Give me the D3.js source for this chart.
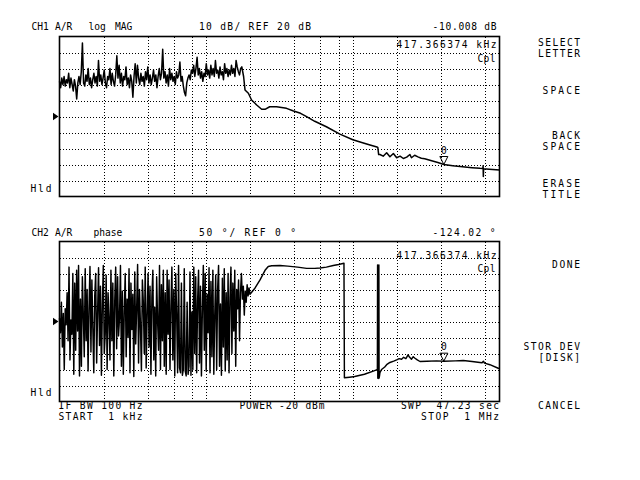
<!DOCTYPE html>
<html><head><meta charset="utf-8">
<script src="https://cdn.jsdelivr.net/npm/d3@7"></script>
<style>
html,body{margin:0;padding:0;background:#fff;}
svg{display:block;background:#fff;}
text{font-family:"DejaVu Sans Mono",monospace;font-size:9.6px;fill:#000;}
</style></head><body>
<svg id="c" width="640" height="480"></svg>
<script>
// ---------- DATA ----------
// sweep: 1 kHz .. 1 MHz, log
const sweepStartKHz = 1;
const sweepStopKHz = 1000;
// vertical grid frequencies (kHz)
const gridFreqs = [2, 4, 6, 8, 10, 20, 40, 60, 80, 100, 200, 400, 800];
// CH1 log MAG: 10 dB/div, REF 20 dB at centre
const magGridDb = [-20, -10, 0, 10, 20, 30, 40, 50, 60];
// CH2 phase: 50 deg/div, REF 0 deg at centre
const phaseGridDeg = [-200, -150, -100, -50, 0, 50, 100, 150, 200];

// CH1 noisy part, sweep points from 1 kHz to 17.5 kHz (dB)
const magNoiseEndKHz = 17.5;
const magNoise = [
  42,38,44,40,45,39,43,41,47,38,
  44,40,36,43,39,31,41,45,40,48,
  66,41,39,46,42,50,40,44,38,43,
  47,41,45,39,55,42,46,40,44,49,
  41,38,45,43,50,40,47,42,39,46,
  58,44,52,41,47,39,45,43,51,40,
  44,38,46,42,32,45,53,41,52,44,
  40,47,42,45,39,48,43,51,41,46,
  40,44,49,42,46,38,45,50,43,47,
  62,44,48,41,46,39,50,43,47,42,
  45,40,48,44,46,54,42,45,39,35,
  33,41,44,46,43,49,47,52,45,50,
  57,46,50,44,48,42,47,45,53,46,
  49,44,52,46,50,45,55,47,49,44,
  51,46,48,43,53,47,50,45,49,46,
  52,47,50,45,55,51,48,46,50,51
];
// CH1 rest of trace
const magFreq = [18,18.4,19.4,20.4,22.1,23.9,25.2,27.1,30.2,35.3,39,44,48.4,55,66,81.6,100,115,131,146,148,150,153,161,170,179,189,199,210,221,233,245,251,264,278,293,309,340,380,417.366374,480,560,650,735,770,773,776,779,850,1000];
const magVals = [45,36.6,34.5,30.3,27.2,24.5,24.5,26.1,26.1,25.1,23.6,22,19.9,17,13.6,9,5.5,3.8,2.2,0.9,0.7,-3.8,-3.75,-4.8,-2.7,-5.2,-3.1,-5.8,-4.8,-6.25,-5.4,-3.75,-5.8,-4.2,-5.2,-6.1,-6.4,-7.5,-8.8,-10.008,-10.8,-11.4,-12.0,-12.4,-12.5,-10.8,-17.5,-12.6,-12.9,-13.4];

// CH2 noisy part, sweep points from 1 kHz to 19.9 kHz (deg)
const phaseNoiseEndKHz = 19.9;
const phaseNoise = [
  10,-35,60,-80,25,-150,40,-10,90,-60,170,-120,5,-40,150,-165,
  120,-90,160,-30,175,-170,70,-140,140,20,-110,165,-60,100,-155,45,172,-95,130,-20,-160,80,150,-130,30,168,-75,110,-168,55,175,-100,-40,145,-150,90,10,-120,160,-60,120,-170,65,170,-85,
  140,-45,10,175,-140,95,-165,35,150,-110,70,-50,165,-160,120,-25,85,-172,155,-70,40,178,-130,100,-15,-155,130,60,-100,170,-145,20,150,-80,110,-165,75,160,-120,45,-170,140,0,-90,175,-150,115,-60,160,-140,
  90,-165,160,-40,130,-150,50,170,-120,100,-170,150,25,-160,175,-145,-160,120,-168,-150,165,-155,-170,60,-165,-140,155,-168,30,-150,
  170,-100,140,-160,65,160,-130,110,-170,40,175,-90,150,-155,85,-35,168,-160,125,-110,160,-165,20,145,-150,100,175,-140,55,-168,135,-80,165,-155,90,-120,150,-160,75,170,-100,120,-30,160,-140,
  100,40,130,-60,90,150,70,110,20,95,60,115,80,105,85
];
// CH2 rest of trace
const phaseFreq = [21.5,23.3,25.2,26.5,28,31.9,36,42,48.4,55,59.7,66,73.5,80,87,87.6,95,103,120,137.8,145,147,147.5,148,148.5,149,149.5,150,150.5,151,152,153,157,165,170,179,190,199,207,215,222,230,238,244,251,258,264,275,287,320,372,417.366374,500,566,650,735,760,777,790,860,980,1000];
const phaseVals = [104,130,160,172,174,175,173,170,166,166,167,170,175,178,182,-176,-174,-172,-165,-155,-151,-153,177,-177,176,-178,175,-176,177,-177,-170,-160,-150,-142,-135,-128,-124,-120,-116,-118,-112,-116,-104,-112,-118,-110,-114,-120,-125,-124,-123,-124.02,-123,-122,-125,-128,-129,-124,-130,-135,-146,-148];

// marker 0
const markerKHz = 417.366374;
const markerMag = -10.008;
const markerPhase = -124.02;

// ---------- DRAW ----------
const svg = d3.select("#c");
const L = 59.5, R = 499.5;
const p1 = {top: 36.5, bottom: 196.5, ref: 20};
const p2 = {top: 241.5, bottom: 401.5, ref: 0};

const x = d3.scaleLog().domain([sweepStartKHz, sweepStopKHz]).range([L, R]);
const y1 = d3.scaleLinear().domain([-30, 70]).range([p1.bottom, p1.top]);
const y2 = d3.scaleLinear().domain([-250, 250]).range([p2.bottom, p2.top]);

function sweepPoints(vals, endKHz) {
  const a = Math.log10(sweepStartKHz), b = Math.log10(endKHz), n = vals.length;
  return vals.map((v, i) => [Math.pow(10, a + (b - a) * i / (n - 1)), v]);
}

function panel(p, y, hVals) {
  const g = svg.append("g");
  const gx = g.append("g").attr("transform", `translate(0,${p.bottom})`)
    .call(d3.axisBottom(x).tickValues(gridFreqs).tickSize(-(p.bottom - p.top)).tickFormat(""));
  gx.select(".domain").remove();
  gx.selectAll("line").attr("stroke", "#000").attr("stroke-width", 1)
    .attr("stroke-dasharray", "1,2").attr("shape-rendering", "crispEdges");
  const gy = g.append("g").attr("transform", `translate(${L},0)`)
    .call(d3.axisLeft(y).tickValues(hVals).tickSize(-(R - L)).tickFormat(""));
  gy.select(".domain").remove();
  gy.selectAll("line").attr("stroke", "#000").attr("stroke-width", 1)
    .attr("stroke-dasharray", "1,2").attr("shape-rendering", "crispEdges");
  g.append("rect").attr("x", L).attr("y", p.top).attr("width", R - L).attr("height", p.bottom - p.top)
    .attr("fill", "none").attr("stroke", "#000").attr("stroke-width", 1.6);
  const c = y(p.ref);
  g.append("path").attr("d", `M53,${c - 3.7}L58.5,${c}L53,${c + 3.7}Z`).attr("fill", "#000");
}
panel(p1, y1, magGridDb);
panel(p2, y2, phaseGridDeg);

const magData = sweepPoints(magNoise, magNoiseEndKHz).concat(magFreq.map((f, i) => [f, magVals[i]]));
const phaseData = sweepPoints(phaseNoise, phaseNoiseEndKHz).concat(phaseFreq.map((f, i) => [f, phaseVals[i]]));

svg.append("path").datum(magData)
  .attr("d", d3.line().x(d => x(d[0])).y(d => y1(d[1])))
  .attr("fill", "none").attr("stroke", "#000").attr("stroke-width", 1.5).attr("stroke-linejoin", "round");
svg.append("path").datum(phaseData)
  .attr("d", d3.line().x(d => x(d[0])).y(d => y2(d[1])))
  .attr("fill", "none").attr("stroke", "#000").attr("stroke-width", 1.45).attr("stroke-linejoin", "round");

function marker(y, v) {
  const cx = x(markerKHz), cy = y(v);
  svg.append("path").attr("d", `M${cx - 4},${cy - 8}L${cx + 4},${cy - 8}L${cx},${cy}Z`)
    .attr("fill", "none").attr("stroke", "#000").attr("stroke-width", 1);
  svg.append("text").attr("x", cx).attr("y", cy - 11).attr("text-anchor", "middle").text("0");
}
marker(y1, markerMag);
marker(y2, markerPhase);

// ---------- TEXT ----------
// each entry: [text, x, baseline, textLength]
const labels = [
  ["CH1", 31.5, 30], ["A/R", 55, 30], ["log", 88.5, 30], ["MAG", 115, 30],
  ["10 dB/ REF 20 dB", 199, 30, 112],
  ["-10.008 dB", 432.5, 30, 64],
  ["417.366374 kHz", 396.5, 47.7, 100],
  ["Cpl", 477.5, 61.7, 18],
  ["Hld", 30.5, 191.7, 21],
  ["CH2", 31.5, 236], ["A/R", 55, 236], ["phase", 93.5, 236],
  ["50 °/ REF 0 °", 199, 236, 97],
  ["-124.02 °", 432.5, 236, 63],
  ["417.366374 kHz", 396.5, 259, 100],
  ["Cpl", 477.5, 272.3, 18],
  ["Hld", 30.5, 396, 21],
  ["IF BW 100 Hz", 58.5, 409.3, 84], ["START  1 kHz", 58.5, 420.3, 84],
  ["POWER -20 dBm", 239.5, 409.3, 85],
  ["SWP  47.23 sec", 401, 409.3, 98], ["STOP  1 MHz", 421, 420.3, 78],
  ["SELECT", 538, 45.7, 42], ["LETTER", 538, 56.7, 42],
  ["SPACE", 542.5, 94.3, 37.5],
  ["BACK", 552, 139.2, 28], ["SPACE", 542.5, 150.2, 37.5],
  ["ERASE", 542.5, 186.7, 37.5], ["TITLE", 542.5, 197.7, 37.5],
  ["DONE", 552, 268.3, 28],
  ["STOR DEV", 523.5, 349.7, 56.5], ["[DISK]", 538.5, 360.7, 41.5],
  ["CANCEL", 538, 409, 42]
];
labels.forEach(([s, lx, ly, tl]) => {
  const t = svg.append("text").attr("x", lx).attr("y", ly)
    .attr("xml:space", "preserve").style("white-space", "pre").text(s);
  if (tl) t.attr("textLength", tl).attr("lengthAdjust", "spacing");
});
</script>
</body></html>
